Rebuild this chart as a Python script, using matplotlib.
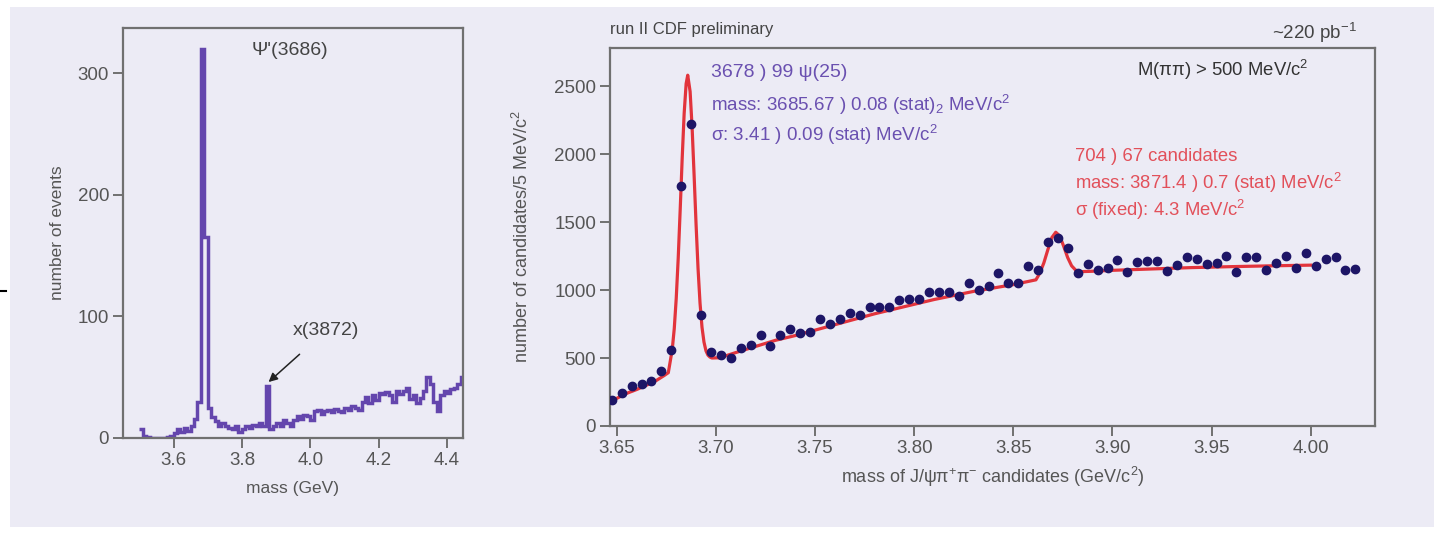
import matplotlib
matplotlib.use('Agg')
import numpy as np
import matplotlib.pyplot as plt
from matplotlib.patches import Rectangle
from matplotlib.lines import Line2D

plt.rcParams['font.family'] = ['Liberation Sans', 'DejaVu Sans']
plt.rcParams['mathtext.fontset'] = 'custom'
plt.rcParams['mathtext.rm'] = 'Liberation Sans'
plt.rcParams['mathtext.it'] = 'Liberation Sans'

# left panel: event histogram, 10 MeV bins starting at 3.50 GeV
hist_start = 3.50
hist_width = 0.01
hist_counts = [7, 2, 1, 0, 0, 0, 0, 0, 1, 2,
               4, 7, 5, 8, 6, 10, 16, 30, 320, 165,
               25, 17, 14, 10, 12, 10, 8, 7, 10, 5,
               7, 10, 8, 11, 10, 12, 10, 43, 7, 10,
               12, 10, 15, 12, 10, 15, 18, 16, 19, 18,
               15, 22, 23, 20, 22, 23, 21, 24, 22, 21,
               25, 23, 26, 25, 23, 30, 34, 29, 35, 31,
               37, 36, 38, 35, 30, 39, 36, 39, 41, 32,
               35, 29, 33, 39, 50, 44, 30, 22, 35, 39,
               37, 40, 41, 44, 50, 40]

# right panel: candidates per 5 MeV/c^2, bin centres from 3.6475 GeV
cand_start = 3.6475
cand_step = 0.005
cand_counts = [190, 241, 296, 311, 329, 404, 560, 1767, 2224, 818,
               542, 522, 499, 575, 597, 668, 585, 668, 710, 685,
               693, 788, 748, 785, 831, 818, 873, 873, 873, 924,
               931, 936, 986, 986, 986, 956, 1052, 1001, 1031, 1124,
               1049, 1049, 1175, 1145, 1353, 1383, 1308, 1124, 1195, 1150,
               1165, 1220, 1132, 1207, 1212, 1212, 1137, 1187, 1240, 1225,
               1195, 1200, 1252, 1132, 1240, 1240, 1150, 1200, 1252, 1162,
               1270, 1177, 1225, 1245, 1150, 1157]

# fit curve (mass in GeV, candidates)
fit_mass = [3.6475, 3.655, 3.660, 3.665, 3.670, 3.674, 3.676, 3.677, 3.678, 3.679,
            3.680, 3.681, 3.682, 3.683, 3.684, 3.685, 3.6858, 3.687, 3.688, 3.689,
            3.690, 3.691, 3.692, 3.693, 3.694, 3.695, 3.696, 3.697, 3.698, 3.702,
            3.710, 3.720, 3.730, 3.740, 3.750, 3.760, 3.770, 3.780, 3.790, 3.800,
            3.810, 3.820, 3.830, 3.840, 3.850, 3.8614, 3.8634, 3.8654, 3.8674, 3.8694,
            3.8714, 3.8734, 3.8754, 3.8774, 3.8794, 3.8814, 3.8834, 3.890, 3.900, 3.920,
            3.940, 3.960, 3.980, 4.000]
fit_vals = [185, 240, 268, 300, 335, 372, 392, 477, 565, 715,
            938, 1234, 1591, 1967, 2299, 2518, 2580, 2460, 2198, 1850,
            1485, 1159, 904, 726, 617, 553, 521, 507, 500, 502,
            540, 585, 630, 665, 705, 745, 785, 825, 860, 895,
            930, 960, 990, 1015, 1040, 1075, 1125, 1200, 1296, 1385,
            1425, 1398, 1322, 1239, 1178, 1147, 1135, 1138, 1145, 1155,
            1165, 1172, 1178, 1183]

bg = '#ecebf5'
axis_grey = '#707070'
text_grey = '#555555'
hist_purple = '#6446ad'
dot_navy = '#1d1566'
fit_red = '#e2343c'
label_purple = '#6a50b0'
label_red = '#e2505a'

fig = plt.figure(figsize=(14.36, 5.33), dpi=100, facecolor='white')
fig.patches.append(Rectangle((10 / 1436, 6 / 533), 1424 / 1436, 520 / 533,
                             transform=fig.transFigure, facecolor=bg,
                             edgecolor='none', zorder=-10))
fig.add_artist(Line2D([0, 6 / 1436], [1 - 291 / 533, 1 - 291 / 533],
                      color='black', lw=1.5))


def style_axes(ax):
    ax.set_facecolor(bg)
    for sp in ax.spines.values():
        sp.set_color(axis_grey)
        sp.set_linewidth(1.6)
    ax.tick_params(direction='out', length=7.5, width=1.4, color=axis_grey,
                   labelcolor=text_grey, labelsize=13.5, pad=2.5)


# ---- left: histogram
ax1 = fig.add_axes([123 / 1436, 1 - 438 / 533, 340 / 1436, 410 / 533])
style_axes(ax1)
edges = hist_start + hist_width * np.arange(len(hist_counts) + 1)
ax1.stairs(hist_counts, edges, color=hist_purple, lw=2.5, baseline=None)
ax1.set_xlim(3.452, 4.447)
ax1.set_ylim(0, 337)
ax1.set_xticks([3.6, 3.8, 4.0, 4.2, 4.4])
ax1.set_xticklabels(['3.6', '3.8', '4.0', '4.2', '4.4'])
ax1.set_yticks([0, 100, 200, 300])
ax1.set_xlabel('mass (GeV)', color=text_grey, fontsize=12.5, labelpad=9)
ax1.set_ylabel('number of events', color=text_grey, fontsize=12.5, labelpad=9)
ax1.text(0.49, 0.946, "Ψ'(3686)", transform=ax1.transAxes, ha='center',
         va='center', color='#444444', fontsize=14)
ax1.annotate('x(3872)', xy=(3.878, 46), xytext=(4.045, 88),
             ha='center', va='center', color='#444444', fontsize=14,
             arrowprops=dict(arrowstyle='-|>', color='#222222', lw=1.1,
                             shrinkA=13, shrinkB=0, mutation_scale=13))

# ---- right: candidates with fit
ax2 = fig.add_axes([610 / 1436, 1 - 426 / 533, 765 / 1436, 378 / 533])
style_axes(ax2)
cand_mass = cand_start + cand_step * np.arange(len(cand_counts))
ax2.plot(fit_mass, fit_vals, color=fit_red, lw=2.3, zorder=2)
ax2.plot(cand_mass, cand_counts, 'o', color=dot_navy, ms=6, zorder=3)
ax2.set_xlim(3.6466, 4.0324)
ax2.set_ylim(0, 2780)
ax2.set_xticks([3.65, 3.70, 3.75, 3.80, 3.85, 3.90, 3.95, 4.00])
ax2.set_xticklabels(['3.65', '3.70', '3.75', '3.80', '3.85', '3.90', '3.95', '4.00'])
ax2.set_yticks([0, 500, 1000, 1500, 2000, 2500])
ax2.set_xlabel('mass of J/ψπ$^{+}$π$^{-}$ candidates (GeV/c$^{2}$)',
               color=text_grey, fontsize=13, labelpad=6)
ax2.set_ylabel('number of candidates/5 MeV/c$^{2}$', color=text_grey,
               fontsize=13, labelpad=16)

ax2.text(0.0, 1.048, 'run II CDF preliminary', transform=ax2.transAxes,
         ha='left', va='center', color='#444444', fontsize=12)
ax2.text(0.976, 1.040, '~220 pb$^{-1}$', transform=ax2.transAxes,
         ha='right', va='center', color='#444444', fontsize=13.5)
ax2.text(0.689, 0.942, 'M(ππ) > 500 MeV/c$^{2}$', transform=ax2.transAxes,
         ha='left', va='center', color='#333333', fontsize=13.3)

ax2.text(0.132, 0.934, '3678 ) 99 ψ(25)', transform=ax2.transAxes,
         ha='left', va='center', color=label_purple, fontsize=14)
ax2.text(0.132, 0.849, 'mass: 3685.67 ) 0.08 (stat)$_{2}$ MeV/c$^{2}$',
         transform=ax2.transAxes, ha='left', va='center', color=label_purple,
         fontsize=13.5)
ax2.text(0.132, 0.770, 'σ: 3.41 ) 0.09 (stat) MeV/c$^{2}$',
         transform=ax2.transAxes, ha='left', va='center', color=label_purple,
         fontsize=13.5)

ax2.text(0.608, 0.712, '704 ) 67 candidates', transform=ax2.transAxes,
         ha='left', va='center', color=label_red, fontsize=13.3)
ax2.text(0.608, 0.643, 'mass: 3871.4 ) 0.7 (stat) MeV/c$^{2}$',
         transform=ax2.transAxes, ha='left', va='center', color=label_red,
         fontsize=13.3)
ax2.text(0.608, 0.571, 'σ (fixed): 4.3 MeV/c$^{2}$',
         transform=ax2.transAxes, ha='left', va='center', color=label_red,
         fontsize=13.3)

plt.savefig('out.png', dpi=100, facecolor=fig.get_facecolor())
